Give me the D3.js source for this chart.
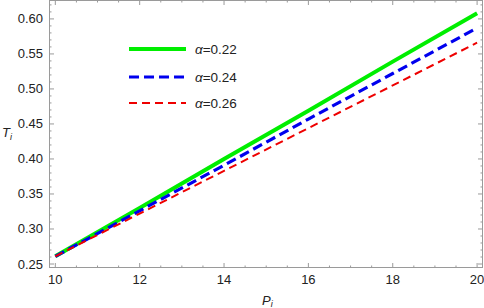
<!DOCTYPE html>
<html><head><meta charset="utf-8">
<script src="https://cdn.jsdelivr.net/npm/d3@7"></script>
<style>
body{margin:0;background:#fff;}
svg{display:block;font-family:"Liberation Sans",Arial,sans-serif;}
</style></head>
<body><div id="chart"></div>
<script>
const P=[10,12,14,16,18,20];
const T22=[0.261,0.330,0.400,0.469,0.539,0.608];
const T24=[0.261,0.326,0.391,0.457,0.522,0.587];
const T26=[0.261,0.322,0.383,0.444,0.505,0.566];
const alphas=['0.22','0.24','0.26'];
const xTicks=[10,12,14,16,18,20];
const yTicks=[0.25,0.30,0.35,0.40,0.45,0.50,0.55,0.60];

const W=484,H=308,m={t:0,r:1,b:40,l:49};
const w=W-m.l-m.r,h=H-m.t-m.b;
const svg=d3.select('#chart').append('svg').attr('width',W).attr('height',H);
const g=svg.append('g').attr('transform',`translate(${m.l},${m.t})`);
const x=d3.scaleLinear().domain([9.85,20.14]).range([0,w]);
const y=d3.scaleLinear().domain([0.2443,0.627]).range([h,0]);
const frameCol='#9a9a9a';

// minor ticks
const xMinor=d3.range(10,20.01,0.5).filter(v=>!xTicks.includes(v));
const yMinor=d3.range(0.25,0.621,0.01).filter(v=>!yTicks.some(t=>Math.abs(t-v)<1e-6));
function ticks(vals,len,isX){
  vals.forEach(v=>{
    if(isX){
      g.append('line').attr('x1',x(v)).attr('x2',x(v)).attr('y1',h).attr('y2',h-len).attr('stroke',frameCol);
      g.append('line').attr('x1',x(v)).attr('x2',x(v)).attr('y1',0).attr('y2',len).attr('stroke',frameCol);
    }else{
      g.append('line').attr('y1',y(v)).attr('y2',y(v)).attr('x1',0).attr('x2',len).attr('stroke',frameCol);
      g.append('line').attr('y1',y(v)).attr('y2',y(v)).attr('x1',w).attr('x2',w-len).attr('stroke',frameCol);
    }
  });
}
ticks(xMinor,2.5,true);ticks(xTicks,5,true);
ticks(yMinor,2.5,false);ticks(yTicks,5,false);
g.append('rect').attr('x',0.5).attr('y',0.5).attr('width',w-1).attr('height',h-1).attr('fill','none').attr('stroke',frameCol);

// tick labels
g.selectAll('.xl').data(xTicks).join('text').attr('x',d=>x(d)).attr('y',h+16).attr('text-anchor','middle')
  .attr('font-size',13).attr('fill','#222').text(d=>d);
g.selectAll('.yl').data(yTicks).join('text').attr('x',-6).attr('y',d=>y(d)+4.5).attr('text-anchor','end')
  .attr('font-size',13).attr('fill','#222').text(d=>d.toFixed(2));

// axis labels
const tl=svg.append('text').attr('x',2).attr('y',137).attr('font-size',13).attr('fill','#222');
tl.append('tspan').attr('font-style','italic').text('T');
tl.append('tspan').attr('font-style','italic').attr('font-size',9).attr('dy',3).text('i');
const pl=svg.append('text').attr('x',262).attr('y',305).attr('font-size',13).attr('fill','#222');
pl.append('tspan').attr('font-style','italic').text('P');
pl.append('tspan').attr('font-style','italic').attr('font-size',9).attr('dy',2).text('i');

// series
const series=[
  {vals:T22,col:'#00ee00',sw:4,dash:null},
  {vals:T24,col:'#0000ee',sw:3.2,dash:'10,5'},
  {vals:T26,col:'#ee0000',sw:2,dash:'8,5'}
];
const line=d3.line().x((d,i)=>x(P[i])).y(d=>y(d));
series.forEach(s=>{
  g.append('path').datum(s.vals).attr('fill','none').attr('stroke',s.col).attr('stroke-width',s.sw)
    .attr('stroke-dasharray',s.dash).attr('d',line);
});

// legend
const legY=[49,77,103];
series.forEach((s,i)=>{
  svg.append('line').attr('x1',129).attr('x2',186).attr('y1',legY[i]).attr('y2',legY[i])
    .attr('stroke',s.col).attr('stroke-width',s.sw).attr('stroke-dasharray',s.dash);
  const t=svg.append('text').attr('x',195).attr('y',legY[i]+5).attr('font-size',13.5).attr('fill','#222');
  t.append('tspan').attr('font-style','italic').text('α');
  t.append('tspan').text('='+alphas[i]);
});
</script></body></html>
